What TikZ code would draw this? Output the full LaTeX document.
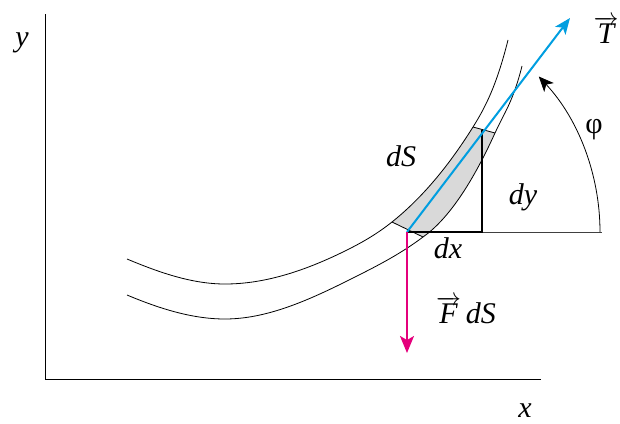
\documentclass[tikz,border=0pt]{standalone}
\usepackage{fontspec}
\setmainfont{Liberation Serif}
\usetikzlibrary{arrows.meta, calc}
\definecolor{tangentblue}{RGB}{0,158,224}
\definecolor{forcepink}{RGB}{228,0,124}

\begin{document}
\begin{tikzpicture}[x=1pt, y=-1pt, >=Stealth,
    every node/.style={font=\fontsize{30}{33}\selectfont\itshape, inner sep=0pt},
    axis/.style={line width=0.9pt},
    curve/.style={line width=0.8pt},
    side/.style={line width=2.4pt},
    tangent/.style={draw=tangentblue, line width=2pt,
                    -{Stealth[length=16pt, width=13pt, inset=4pt]}},
    force/.style={draw=forcepink, line width=2pt,
                  -{Stealth[length=17pt, width=14pt, inset=4pt]}},
    anglearc/.style={line width=0.8pt,
                     -{Stealth[length=15pt, width=13pt, inset=4pt]}}]
  \useasboundingbox (0,0) rectangle (620,423);
  % axes
  \coordinate (O) at (45,379);
  \coordinate (ytop) at (45,14);
  \coordinate (xend) at (541,379);
  \draw[axis] (ytop) -- (O) -- (xend);
  \node (ylab) at (22,43) {y};
  \node (xlab) at (525,411) {x};
  % corners of the element dS
  \coordinate (A) at (392,222);
  \coordinate (B) at (423,237);
  \coordinate (C) at (473,127);
  \coordinate (D) at (495,133);
  \begin{scope}
    \clip ($(A)!-1!(B)$) -- ($(B)!-1!(A)$) -- ($(D)!-2!(C)$) -- ($(C)!-2!(D)$) -- cycle;
    \fill[black!15] (A) .. controls (419,200.4) and (446,170.2) .. (C)
      .. controls (484.7,108.3) and (496.3,86.7) .. (508,40) -- (522,66)
      .. controls (513,102) and (504,113.2) .. (D)
      .. controls (471,185.8) and (447,220.2) .. (B)
      .. controls (397.7,256) and (372.3,268.3) .. (347,281) -- (347,250)
      .. controls (362,242.5) and (377,234) .. (A) -- cycle;
  \end{scope}
  % the two curves
  \draw[curve] (127,259) .. controls (159.7,272.7) and (192.3,284) .. (225,284)
    .. controls (265.7,284) and (306.3,270.3) .. (347,250)
    .. controls (362,242.5) and (377,234) .. (A)
    .. controls (419,200.4) and (446,170.2) .. (C)
    .. controls (484.7,108.3) and (496.3,86.7) .. (508,40);
  \draw[curve] (127,295) .. controls (159.7,308.7) and (192.3,319) .. (225,319)
    .. controls (265.7,319) and (306.3,301.3) .. (347,281)
    .. controls (372.3,268.3) and (397.7,256) .. (B)
    .. controls (447,220.2) and (471,185.8) .. (D)
    .. controls (504,113.2) and (513,102) .. (522,66);
  \draw[curve] (A) -- (B);
  \draw[curve] (C) -- (D);
  % dx, dy
  \coordinate (P) at (407,232);
  \coordinate (Q) at (482,232);
  \coordinate (R) at (482,130);
  \coordinate (E) at (602,232);
  \draw[line width=0.8pt, black!75] (Q) -- (E);
  \draw[side] (P) -- (Q) -- (R);
  % angle
  \coordinate (arcstart) at (600,232);
  \draw[anglearc] (arcstart) arc[start angle=0, end angle=43, radius=228pt];
  % tangent and force
  \coordinate (Ttip) at (570,18);
  \coordinate (Ftip) at (407,353);
  \draw[tangent] (P) -- (Ttip);
  \draw[force] (P) -- (Ftip);
  % labels
  \node (Tlab) at (606,30) {$\overrightarrow{\textit{T}}$};
  \node (philab) at (594,130) {\upshape φ};
  \node (dSlab) at (401,156) {dS};
  \node (dylab) at (523,197) {dy};
  \node (dxlab) at (448,248) {dx};
  \node (Flab) at (466,310) {$\overrightarrow{\textit{F}}$\,dS};
\end{tikzpicture}
\end{document}
